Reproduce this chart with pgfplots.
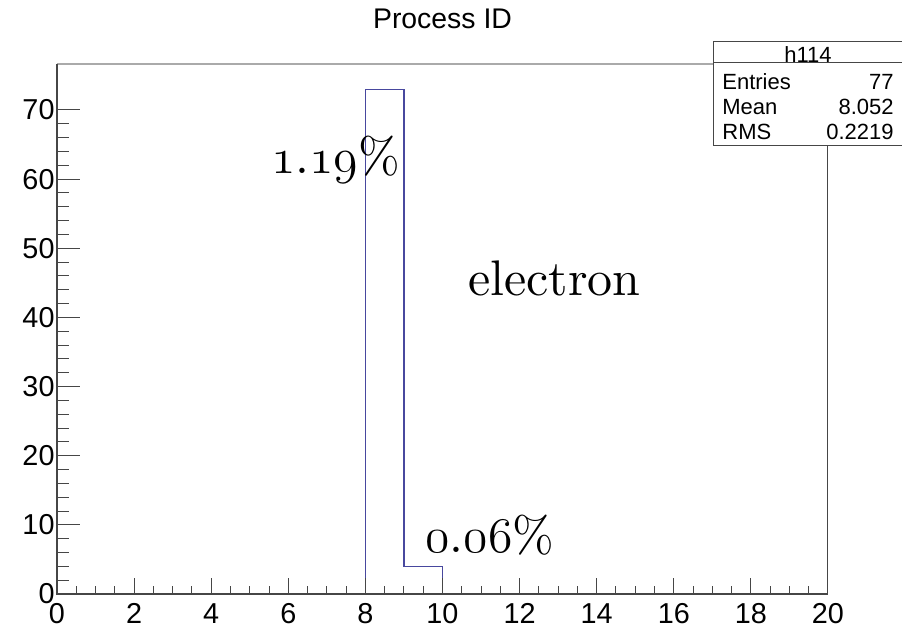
\documentclass[border=0pt]{standalone}
\usepackage{pgfplots}
\pgfplotsset{compat=1.18}
\usepackage{fontspec}
\setmainfont{Liberation Sans}
\newfontfamily\lmserif[Extension=.otf]{lmroman10-regular}
% old-style figures, taken from the Computer Modern math italic font
\newcommand\osf[1]{{\usefont{OML}{cmm}{m}{it}#1}}
\definecolor{histline}{RGB}{72,72,158}
\definecolor{axisgray}{RGB}{70,70,70}
\definecolor{framegray}{RGB}{170,170,170}

\pgfplotsset{
  rootframe/.style={
    at={(0,0)}, anchor=south west,
    scale only axis, width=385.5pt, height=265pt,
    xmin=0, xmax=20, ymin=0, ymax=76.65,
    axis line style={draw=none},
    tick align=inside,
    tick style={axisgray, line width=0.5pt},
    ticklabel style={font=\fontsize{14.4}{16}\selectfont},
    /pgf/number format/assume math mode=true,
  },
}

\begin{document}
\begin{tikzpicture}[x=1pt,y=1pt]
\useasboundingbox (-28.5,-16.5) rectangle (422.5,297);

% y ticks, frame, histogram and annotations
\begin{axis}[
  rootframe,
  xtick=\empty,
  ytick={0,10,...,70}, minor y tick num=4, ytick pos=left,
  major tick length=11.5pt, minor tick length=6pt,
  yticklabel style={xshift=2.3pt},
  clip=false,
]
  \draw[framegray, line width=0.75pt] (rel axis cs:0,1) -- (rel axis cs:1,1);
  \draw[axisgray, line width=0.5pt] (rel axis cs:1,0) -- (rel axis cs:1,1);
  \draw[axisgray, line width=0.6pt] (rel axis cs:0,1) -- (rel axis cs:0,0) -- (rel axis cs:1,0);

  % bin contents: process 8 -> 73 entries, process 9 -> 4 entries
  \addplot[const plot mark left, histline, line width=0.7pt, mark=none]
    coordinates {(8,0) (8,73) (9,4) (10,4) (10,0)};

  \node[anchor=base, inner sep=0pt, yshift=17.5pt, font=\fontsize{14.2}{16}\selectfont]
    at (rel axis cs:0.5,1) {Process ID};

  \node[anchor=base west, inner sep=0pt, font=\lmserif\fontsize{25}{28}\selectfont]
    at (axis cs:5.55,60.75) {\osf{1}.\osf{19}\%};
  \node[anchor=base west, inner sep=0pt, font=\lmserif\fontsize{25}{28}\selectfont]
    at (axis cs:10.66,43.1) {electron};
  \node[anchor=base west, inner sep=0pt, font=\lmserif\fontsize{25}{28}\selectfont]
    at (axis cs:9.55,6.06) {\osf{0}.\osf{06}\%};
\end{axis}

% x ticks
\begin{axis}[
  rootframe,
  ytick=\empty,
  xtick={0,2,...,20}, minor x tick num=3, xtick pos=bottom,
  major tick length=8pt, minor tick length=4pt,
  xticklabel style={anchor=base, yshift=-14.8pt},
]
\end{axis}

% statistics box
\begin{scope}[font=\fontsize{11}{13}\selectfont]
  \draw[axisgray, fill=white, line width=0.5pt] (328,224) rectangle (424,276);
  \draw[axisgray, line width=0.5pt] (328,265.5) -- (424,265.5);
  \node[anchor=center, inner sep=0pt] at (375.5,269.5) {h114};
  \node[anchor=west, inner sep=0pt] at (332.5,256) {Entries};
  \node[anchor=east, inner sep=0pt] at (418.5,256) {77};
  \node[anchor=west, inner sep=0pt] at (332.5,243.5) {Mean};
  \node[anchor=east, inner sep=0pt] at (418.5,243.5) {8.052};
  \node[anchor=west, inner sep=0pt] at (332.5,231) {RMS};
  \node[anchor=east, inner sep=0pt] at (418.5,231) {0.2219};
\end{scope}
\end{tikzpicture}
\end{document}
